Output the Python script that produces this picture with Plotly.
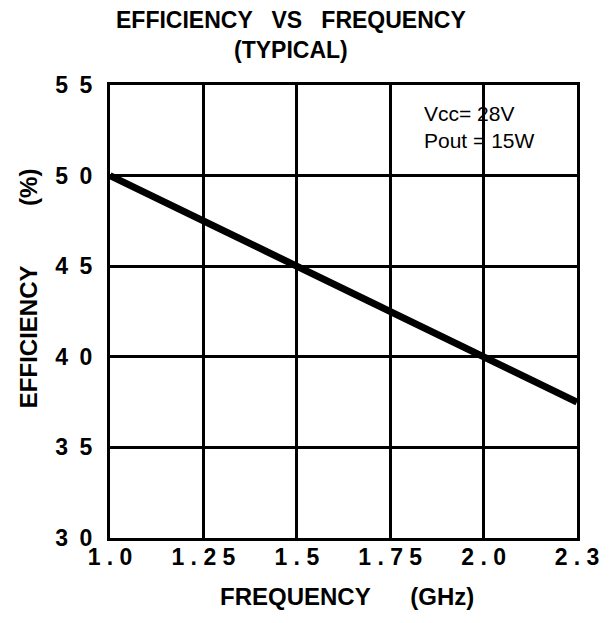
import plotly.graph_objects as go

# Data
freq_ghz = [1.0, 1.5, 2.0, 2.25]
efficiency_pct = [50, 45, 40, 37.5]

x_tick_vals = [1.0, 1.25, 1.5, 1.75, 2.0, 2.25]
x_tick_text = ["1 . 0", "1 . 2 5", "1 . 5", "1 . 7 5", "2 . 0", "2 . 3"]
y_tick_vals = [30, 35, 40, 45, 50, 55]
y_tick_text = ["3\u20020", "3\u20025", "4\u20020", "4\u20025", "5\u20020", "5\u20025"]

FONT = "Liberation Sans, Arial, sans-serif"
TICK = dict(family=FONT, color="black", size=23, weight="bold")
BOLD = dict(family=FONT, color="black", size=23, weight="bold")

fig = go.Figure()
fig.add_trace(go.Scatter(x=freq_ghz, y=efficiency_pct, mode="lines",
                         line=dict(color="black", width=7), showlegend=False))

fig.update_layout(
    width=610, height=623,
    margin=dict(l=102, r=41, t=77, b=93),
    paper_bgcolor="white", plot_bgcolor="white",
    font=dict(family=FONT, color="black"),
    xaxis=dict(range=[1.0, 2.25], tickvals=x_tick_vals, ticktext=x_tick_text,
               showgrid=True, gridcolor="black", gridwidth=2.5,
               showline=True, linecolor="black", linewidth=3, mirror=True,
               ticks="", zeroline=False, ticklabelstandoff=-4,
               tickfont=TICK),
    yaxis=dict(range=[30, 55], tickvals=y_tick_vals, ticktext=y_tick_text,
               showgrid=True, gridcolor="black", gridwidth=2.5,
               showline=True, linecolor="black", linewidth=3, mirror=True,
               ticks="", zeroline=False, ticklabelstandoff=10,
               tickfont=TICK),
)

# Title
fig.add_annotation(text="EFFICIENCY   VS   FREQUENCY<br>(TYPICAL)",
                   xref="paper", yref="paper", x=0.388, y=1.110,
                   xanchor="center", yanchor="middle", showarrow=False,
                   font=BOLD)
# Axis titles
fig.add_annotation(text="FREQUENCY      (GHz)", xref="paper", yref="paper",
                   x=0.508, y=-0.130, xanchor="center", yanchor="middle",
                   showarrow=False, font=dict(BOLD, size=24))
fig.add_annotation(text="EFFICIENCY         (%)", xref="paper", yref="paper",
                   x=-0.173, y=0.552, xanchor="center", yanchor="middle",
                   textangle=-90, showarrow=False, font=dict(BOLD, size=24))
# Conditions note
fig.add_annotation(text="Vcc= 28V<br>Pout = 15W", xref="paper", yref="paper",
                   x=0.668, y=0.967, xanchor="left", yanchor="top", align="left",
                   showarrow=False, font=dict(size=21, family=FONT, color="black"))

fig.write_html("out.html")
